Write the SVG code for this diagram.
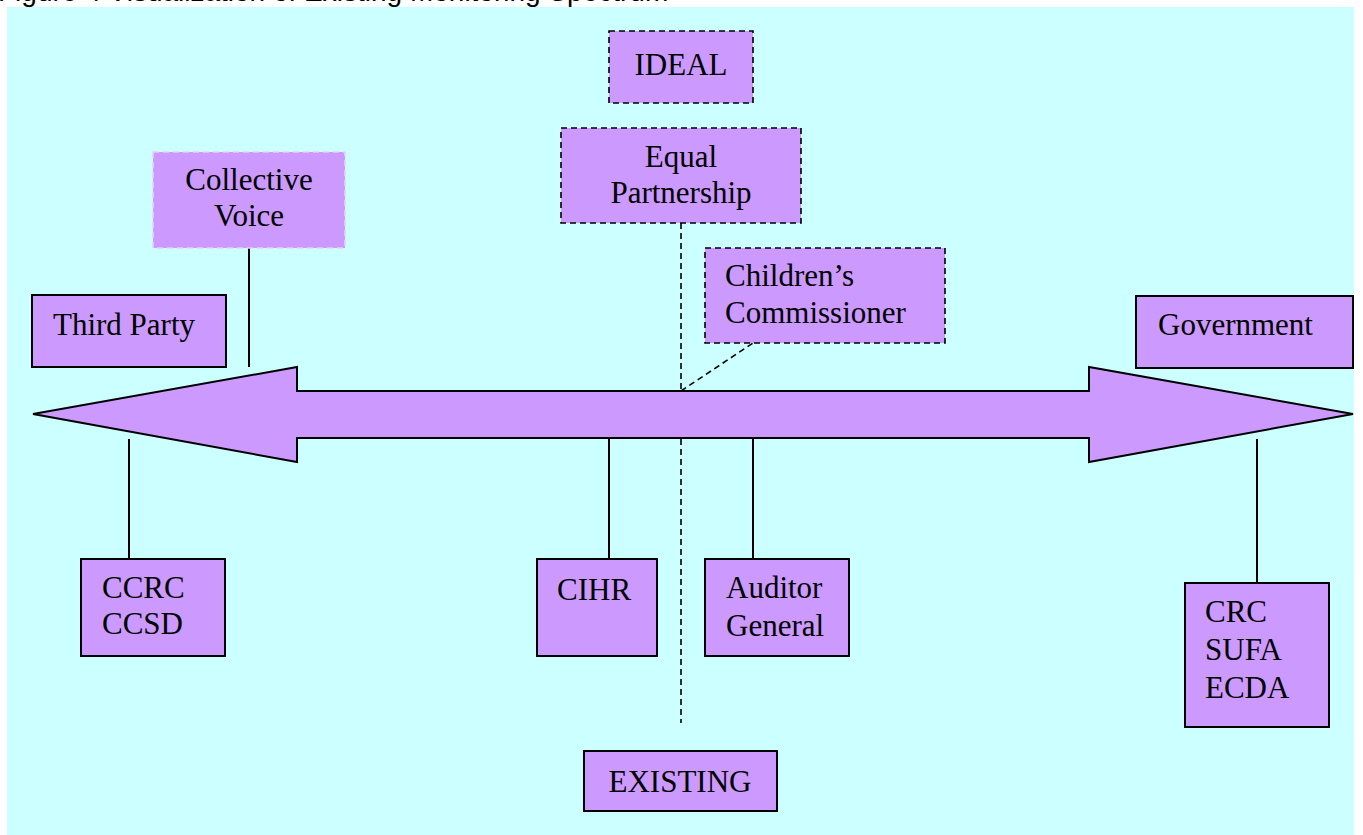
<svg xmlns="http://www.w3.org/2000/svg" width="1363" height="835" viewBox="0 0 1363 835">
<style>
.bg{fill:#CCFFFF;}
.box{fill:#CC99FF;stroke:#000;stroke-width:2;}
.dbox{fill:#CC99FF;stroke:#000;stroke-width:1.6;stroke-dasharray:6 4;}
.lbox{fill:#CC99FF;stroke:#E8D0FF;stroke-width:1.6;stroke-dasharray:6 4;}
.t{font-family:"Liberation Serif","Times New Roman",serif;font-size:31px;fill:#000;}
.c{text-anchor:middle;}
.ln{stroke:#000;stroke-width:2;fill:none;}
.dl{stroke:#000;stroke-width:1.6;stroke-dasharray:6 4;fill:none;}
.cap{font-family:"Liberation Sans",Arial,sans-serif;font-size:28px;fill:#000;}
</style>
<rect x="0" y="0" width="1363" height="835" fill="#fff"/>
<text class="cap" x="-2" y="1">Figure 4 Visualization of Existing Monitoring Spectrum</text>
<rect class="bg" x="7" y="7" width="1347" height="828"/>

<g id="spectrum-arrow">
<polygon points="33,414 297,367 297,391 1089,391 1089,367 1353,414 1089,462 1089,438 297,438 297,462" fill="#CC99FF" stroke="#000" stroke-width="2" stroke-linejoin="miter"/>
</g>

<g id="connectors">
<line class="ln" x1="249" y1="248" x2="249" y2="367"/>
<line class="dl" x1="681" y1="223" x2="681" y2="391"/>
<line class="dl" x1="681" y1="391" x2="753" y2="343"/>
<line class="dl" x1="681" y1="439" x2="681" y2="723"/>
<line class="ln" x1="129" y1="439" x2="129" y2="559"/>
<line class="ln" x1="609" y1="439" x2="609" y2="559"/>
<line class="ln" x1="753" y1="439" x2="753" y2="559"/>
<line class="ln" x1="1257" y1="439" x2="1257" y2="583"/>
</g>

<g id="ideal">
<rect class="dbox" x="609" y="31" width="144" height="72"/>
<text class="t c" x="681" y="75">IDEAL</text>
</g>

<g id="equal-partnership">
<rect class="dbox" x="561" y="128" width="240" height="95"/>
<text class="t c" x="681" y="167">Equal</text>
<text class="t c" x="681" y="203">Partnership</text>
</g>

<g id="collective-voice">
<rect class="lbox" x="153" y="152" width="192" height="96"/>
<text class="t c" x="249" y="190">Collective</text>
<text class="t c" x="249" y="226">Voice</text>
</g>

<g id="childrens-commissioner">
<rect class="dbox" x="705" y="248" width="240" height="95"/>
<text class="t" x="725" y="286">Children’s</text>
<text class="t" x="725" y="323">Commissioner</text>
</g>

<g id="third-party">
<rect class="box" x="32" y="295" width="194" height="72"/>
<text class="t" x="53" y="335">Third Party</text>
</g>

<g id="government">
<rect class="box" x="1136" y="296" width="217" height="72"/>
<text class="t" x="1158" y="335">Government</text>
</g>

<g id="ccrc-ccsd">
<rect class="box" x="81" y="559" width="144" height="97"/>
<text class="t" x="102" y="598">CCRC</text>
<text class="t" x="102" y="634">CCSD</text>
</g>

<g id="cihr">
<rect class="box" x="537" y="559" width="120" height="97"/>
<text class="t" x="557" y="600">CIHR</text>
</g>

<g id="auditor-general">
<rect class="box" x="705" y="559" width="144" height="97"/>
<text class="t" x="726" y="598">Auditor</text>
<text class="t" x="726" y="636">General</text>
</g>

<g id="crc-sufa-ecda">
<rect class="box" x="1185" y="583" width="144" height="144"/>
<text class="t" x="1205" y="622">CRC</text>
<text class="t" x="1205" y="660">SUFA</text>
<text class="t" x="1205" y="698">ECDA</text>
</g>

<g id="existing">
<rect class="box" x="584" y="751" width="193" height="60"/>
<text class="t c" x="680" y="792">EXISTING</text>
</g>
</svg>
